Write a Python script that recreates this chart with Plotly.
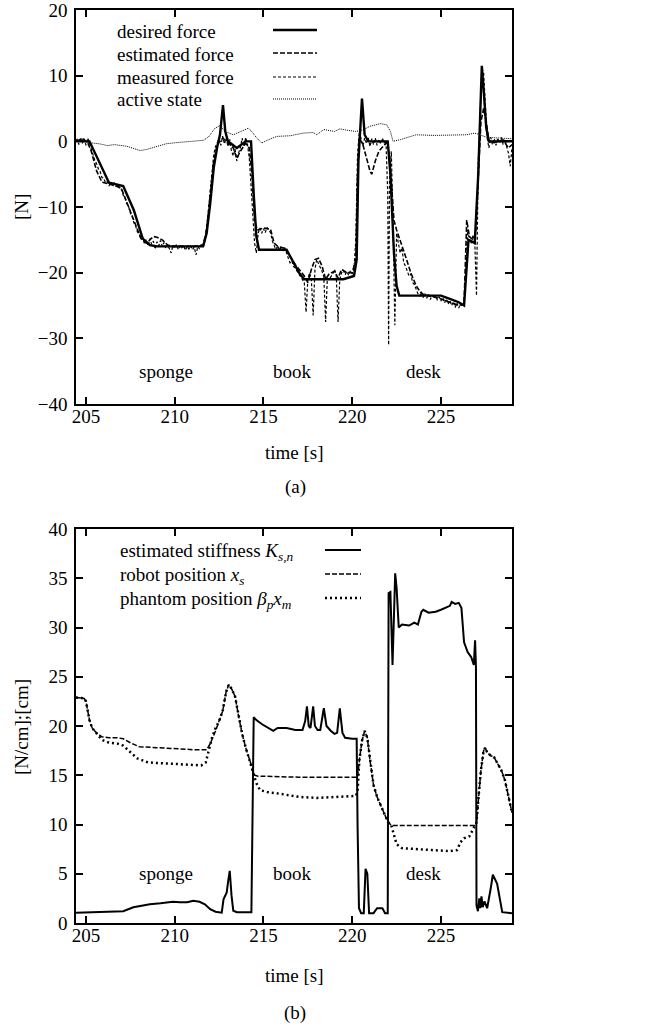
import plotly.graph_objects as go

# ---------------- data: (a) forces ----------------
des_t = [204.44, 205.2, 206.3, 207.1, 207.7, 208.2, 208.6, 209.0, 211.6, 211.8, 212.0, 212.2, 212.4,
         212.55, 212.72, 212.85, 213.0, 213.5, 214.0, 214.3, 214.45, 214.6, 214.75, 216.3, 216.6,
         217.0, 217.3, 219.5, 220.1, 220.25, 220.35, 220.45, 220.55, 220.7, 220.9, 222.0, 222.15,
         222.35, 222.5, 222.65, 225.0, 225.5, 226.0, 226.3, 226.45, 226.55, 226.9, 227.1, 227.22,
         227.3, 227.4, 227.55, 227.7, 229.0]
des_v = [0.0, 0.0, -6.3, -6.8, -10.5, -14.8, -15.8, -16.0, -16.0, -14.0, -9.5, -4.0, -0.8,
         1.0, 5.5, 1.5, 0.0, -1.0, 0.0, 0.0, -8.0, -14.5, -16.5, -16.5, -18.0,
         -20.0, -21.0, -21.0, -20.5, -18.0, -3.0, 2.0, 6.5, 1.0, 0.0, 0.0, -5.0,
         -17.0, -22.0, -23.5, -23.5, -24.0, -24.5, -25.0, -18.0, -15.0, -15.5, -5.0, 5.0,
         11.5, 8.0, 2.0, 0.0, 0.0]

est_t = [204.44, 204.8, 205.1, 205.3, 205.6, 205.9, 206.3, 206.7, 207.0, 207.4, 207.8, 208.1, 208.4,
         208.8, 209.0, 209.3, 209.6, 210.0, 211.0, 211.6, 211.8, 212.0, 212.2, 212.4, 212.7, 213.0,
         213.3, 213.5, 213.7, 214.0, 214.2, 214.35, 214.5, 214.65, 215.0, 215.4, 215.6, 215.8,
         216.2, 216.5, 216.8, 217.1, 217.3, 217.5, 217.7, 217.9, 218.1, 218.3, 218.5, 218.7,
         219.0, 219.2, 219.4, 219.7, 220.0, 220.2, 220.3, 220.4, 220.6, 220.8, 221.0, 221.1,
         221.3, 221.5, 221.8, 222.0, 222.15, 222.35, 222.5, 222.7, 223.0, 223.3, 223.6, 223.9,
         224.5, 225.0, 225.5, 226.0, 226.3, 226.4, 226.45, 226.6, 226.8, 226.95, 227.1, 227.25,
         227.4, 227.55, 227.7, 228.0, 228.5, 228.8, 229.0]
est_v = [0.0, 0.4, -0.2, -1.5, -4.5, -6.2, -6.5, -6.8, -7.2, -10.0, -13.0, -14.8, -15.5,
         -14.5, -14.6, -15.0, -15.8, -16.0, -16.0, -15.8, -13.5, -8.0, -3.0, -0.5, 0.5, -0.2,
         -1.0, -2.6, -1.5, -0.3, -1.0, -5.0, -12.0, -13.5, -13.2, -13.4, -15.5, -16.0,
         -16.3, -17.5, -18.8, -19.8, -20.5, -21.5, -19.5, -18.0, -17.8, -19.0, -21.0, -20.2,
         -19.8, -20.8, -19.5, -20.0, -20.0, -18.0, -5.0, 0.5, -0.5, -2.5, -4.5, -5.0,
         -3.0, -1.5, -0.5, 0.0, -4.0, -12.0, -13.5, -15.0, -17.5, -20.0, -22.0, -23.2,
         -23.6, -24.0, -24.5, -25.0, -24.8, -18.0, -12.0, -14.5, -15.0, -14.0, -5.0, 3.0,
         5.0, 3.0, 0.0, -0.2, 0.2, -1.0, -0.5]

meas_t = [204.44, 204.5, 204.6, 204.7, 204.8, 204.9, 205.0, 205.1, 205.2, 205.3, 205.4, 205.5, 205.6,
          205.7, 205.8, 205.9, 206.0, 206.1, 206.2, 206.3, 206.4, 206.5, 206.6, 206.7, 206.8, 206.9,
          207.0, 207.1, 207.2, 207.3, 207.4, 207.5, 207.6, 207.7, 207.8, 207.9, 208.0, 208.1, 208.2,
          208.3, 208.4, 208.5, 208.6, 208.7, 208.8, 208.9, 209.0, 209.1, 209.2, 209.3, 209.4, 209.5,
          209.6, 209.7, 209.8, 209.9, 210.0, 210.1, 210.2, 210.3, 210.4, 210.5, 210.6, 210.7, 210.8,
          210.9, 211.0, 211.1, 211.2, 211.3, 211.4, 211.5, 211.6, 211.7, 211.8, 211.9, 212.0, 212.1,
          212.2, 212.3, 212.4, 212.5, 212.6, 212.7, 212.8, 212.9, 213.0, 213.1, 213.2, 213.3, 213.4,
          213.5, 213.6, 213.7, 213.8, 213.9, 214.0, 214.1, 214.2, 214.3, 214.4, 214.5, 214.6, 214.7,
          214.8, 214.9, 215.0, 215.1, 215.2, 215.3, 215.4, 215.5, 215.6, 215.7, 215.8, 215.9, 216.0,
          216.1, 216.2, 216.3, 216.4, 216.5, 216.6, 216.7, 216.8, 216.9, 217.0, 217.1, 217.2, 217.3,
          217.4, 217.5, 217.6, 217.7, 217.8, 217.9, 218.0, 218.1, 218.2, 218.3, 218.4, 218.5, 218.6,
          218.7, 218.8, 218.9, 219.0, 219.1, 219.2, 219.3, 219.4, 219.5, 219.6, 219.7, 219.8, 219.9,
          220.0, 220.1, 220.2, 220.3, 220.4, 220.5, 220.6, 220.7, 220.8, 220.9, 221.0, 221.1, 221.2,
          221.3, 221.4, 221.5, 221.6, 221.7, 221.8, 221.9, 222.0, 222.05, 222.1, 222.2, 222.3, 222.4,
          222.5, 222.6, 222.7, 222.8, 222.9, 223.0, 223.1, 223.2, 223.3, 223.4, 223.5, 223.6, 223.7,
          223.8, 223.9, 224.0, 224.1, 224.2, 224.3, 224.4, 224.5, 224.6, 224.7, 224.8, 224.9, 225.0,
          225.1, 225.2, 225.3, 225.4, 225.5, 225.6, 225.7, 225.8, 225.9, 226.0, 226.1, 226.2, 226.3,
          226.4, 226.5, 226.6, 226.7, 226.8, 226.9, 227.0, 227.05, 227.1, 227.2, 227.3, 227.4, 227.5,
          227.6, 227.7, 227.8, 227.9, 228.0, 228.1, 228.2, 228.3, 228.4, 228.5, 228.6, 228.7, 228.8,
          228.9, 229.0]
meas_v = [0.2, 0.3, -0.5, 0.6, -0.3, 0.4, -0.6, 0.5, -0.3, -1.2, -1.9, -2.9, -3.4,
          -4.2, -4.6, -5.5, -5.6, -6.3, -6.1, -6.8, -6.2, -6.7, -6.3, -6.9, -6.5, -7.1,
          -7.3, -8.2, -8.6, -9.5, -9.9, -10.9, -11.4, -12.4, -12.9, -13.8, -14.1, -14.9, -14.7,
          -15.6, -15.0, -15.9, -14.8, -15.7, -15.2, -16.4, -15.3, -15.9, -15.1, -16.0, -15.4, -16.3,
          -15.7, -16.4, -17.0, -15.8, -16.3, -15.7, -16.5, -15.9, -16.2, -15.8, -16.6, -16.0, -16.4,
          -15.9, -16.5, -16.1, -17.3, -16.0, -16.4, -15.8, -16.1, -15.2, -13.0, -10.5, -7.5, -4.5,
          -2.0, -0.8, -0.2, 0.4, -0.6, 0.8, -0.4, 0.5, -0.8, 0.3, -1.5, -2.2, -1.2,
          -3.0, -1.8, -0.9, 0.5, -0.8, 0.6, -0.5, -2.5, -7.0, -11.5, -15.5, -17.0, -14.0,
          -13.2, -14.0, -13.3, -13.9, -13.1, -13.6, -13.9, -15.2, -16.0, -16.5, -15.9, -16.6, -16.1,
          -16.7, -16.2, -17.2, -17.8, -18.5, -18.2, -19.1, -19.3, -19.8, -20.2, -20.6, -20.9, -21.5,
          -26.0, -21.0, -20.0, -21.2, -26.5, -19.5, -18.0, -18.5, -19.2, -19.8, -20.6, -27.5, -20.8,
          -21.0, -20.6, -20.2, -19.5, -20.3, -27.5, -21.0, -20.0, -19.6, -20.3, -19.8, -20.4, -19.7,
          -20.2, -19.5, -15.0, -2.0, 1.5, 0.2, -0.7, 0.5, -0.3, 0.6, -0.8, 0.4, -0.5,
          0.5, -0.6, 0.3, -0.4, 0.5, -0.3, 0.2, -8.0, -31.0, -6.0, -1.5, -12.0, -28.0,
          -14.0, -15.5, -17.0, -16.2, -18.5, -19.0, -19.8, -20.5, -20.2, -21.5, -21.8, -22.6, -23.2,
          -23.6, -22.9, -23.8, -23.2, -23.9, -23.3, -24.1, -23.4, -23.9, -23.5, -24.2, -23.7, -24.3,
          -23.8, -24.6, -24.0, -24.8, -24.2, -25.0, -24.4, -25.3, -24.6, -25.4, -24.7, -25.1, -24.5,
          -20.0, -13.5, -14.8, -15.6, -14.3, -15.0, -23.5, -10.0, -3.0, 4.0, 11.0, 10.5, 5.0,
          0.5, -1.0, 0.6, -0.5, 0.4, -0.6, 0.5, -0.3, 0.6, -0.5, 0.3, -0.8, -1.8,
          -3.8, -1.0]

act_t = [204.44, 204.8, 205.2, 205.8, 206.2, 206.6, 207.3, 208.05, 208.4, 209.0, 209.55, 210.3,
         211.05, 211.6, 211.9, 212.27, 212.55, 212.84, 213.3, 213.68, 214.15, 214.34, 214.62, 214.9,
         215.2, 215.75, 216.5, 217.25, 217.8, 218.0, 218.4, 219.0, 219.3, 219.7, 220.2, 220.65,
         221.0, 221.6, 221.95, 222.15, 222.3, 222.7, 223.25, 223.6, 224.55, 225.5, 226.45, 226.9,
         227.2, 227.6, 228.3, 229.0]
act_v = [0.2, 0.1, -0.2, -0.4, -0.65, -0.5, -0.75, -1.4, -1.25, -0.75, -0.35, -0.15,
         0.0, 0.15, 0.65, 2.0, 2.4, 1.5, 1.0, 1.5, 2.0, 1.5, 0.5, -0.25,
         0.15, 0.75, 0.85, 1.25, 1.35, 1.0, 1.8, 1.5, 1.9, 1.7, 1.5, 1.8,
         2.3, 2.7, 2.5, 1.5, 0.0, 0.25, 0.75, 1.0, 0.9, 0.9, 1.0, 1.25,
         1.0, 0.6, 0.5, 0.4]

# ---------------- data: (b) stiffness / positions ----------------
stf_t = [204.44, 205.8, 206.6, 207.1, 207.67, 208.05, 208.6, 209.2, 209.55, 209.9, 210.3, 210.7,
         211.05, 211.4, 211.7, 212.0, 212.3, 212.65, 212.75, 212.93, 213.0, 213.1, 213.2, 213.3,
         213.5, 214.25, 214.32, 214.45, 214.6, 214.9, 215.3, 215.55, 215.8, 216.3, 216.8, 217.2,
         217.35, 217.45, 217.55, 217.65, 217.8, 217.9, 218.05, 218.2, 218.4, 218.55, 218.8, 219.0,
         219.15, 219.3, 219.45, 219.6, 220.0, 220.25, 220.3, 220.38, 220.5, 220.65, 220.75, 220.85,
         220.95, 221.2, 221.4, 221.7, 221.85, 222.0, 222.05, 222.15, 222.27, 222.42, 222.5, 222.62,
         222.8, 223.2, 223.5, 223.7, 223.9, 224.0, 224.3, 224.7, 225.0, 225.3, 225.5, 225.6, 225.8,
         226.0, 226.15, 226.3, 226.5, 226.7, 226.85, 226.92, 226.97, 227.0, 227.08, 227.16, 227.22,
         227.28, 227.35, 227.45, 227.6, 227.8, 227.92, 228.16, 228.3, 228.45, 229.0]
stf_v = [1.05, 1.1, 1.15, 1.2, 1.6, 1.75, 1.9, 2.0, 2.1, 2.15, 2.1, 2.1,
         2.25, 2.15, 1.9, 1.4, 1.15, 1.05, 2.4, 3.1, 4.1, 5.3, 2.8, 1.25,
         1.1, 1.1, 1.1, 20.9, 20.6, 20.2, 19.8, 19.5, 19.8, 19.8, 19.6, 19.6,
         20.5, 22.0, 20.0, 19.8, 22.0, 20.0, 19.6, 19.6, 21.8, 20.0, 19.5, 19.2,
         19.3, 21.8, 19.3, 18.8, 18.7, 18.7, 10.0, 1.5, 1.0, 1.0, 5.5, 5.0,
         1.0, 1.0, 1.5, 1.5, 1.0, 1.0, 33.5, 33.6, 26.2, 35.5, 34.0, 30.0,
         30.3, 30.2, 30.5, 30.3, 31.6, 31.8, 31.5, 31.6, 31.8, 32.0, 32.2, 32.6, 32.4,
         32.5, 32.0, 28.5, 27.5, 27.0, 26.2, 28.7, 26.0, 1.8, 1.2, 2.5, 1.5,
         2.7, 1.6, 2.2, 1.5, 3.5, 4.9, 4.0, 2.5, 1.1, 1.0]

rob_t = [204.44, 204.9, 205.0, 205.1, 205.2, 205.35, 205.6, 205.9, 206.3, 206.8, 207.1, 207.5,
         208.0, 209.0, 210.0, 211.0, 211.8, 212.0, 212.3, 212.5, 212.7, 212.9, 213.05, 213.2,
         213.4, 213.6, 213.8, 214.0, 214.3, 214.5, 214.7, 215.0, 217.0, 219.0, 220.3, 220.4,
         220.55, 220.7, 220.85, 221.0, 221.2, 221.4, 221.6, 221.8, 222.0, 222.2, 223.0, 226.9,
         227.0, 227.1, 227.25, 227.4, 227.5, 227.6, 227.8, 228.0, 228.2, 228.4, 228.6, 228.8, 229.0]
rob_v = [22.9, 22.8, 22.5, 21.5, 20.6, 19.8, 19.3, 18.9, 18.8, 18.8, 18.7, 18.3,
         17.9, 17.8, 17.7, 17.6, 17.6, 18.2, 19.5, 20.5, 21.5, 23.5, 24.2, 23.8,
         23.0, 21.0, 19.2, 17.8, 16.0, 15.0, 14.9, 14.9, 14.8, 14.8, 14.8, 16.5,
         18.5, 19.5, 18.8, 16.5, 14.0, 12.8, 11.9, 11.0, 10.3, 9.9, 9.9, 9.9,
         10.2, 12.5, 15.5, 17.5, 17.8, 17.3, 17.0, 16.8, 16.2, 15.5, 14.5, 13.0, 11.2]

pha_t = [204.44, 204.9, 205.0, 205.1, 205.2, 205.35, 205.6, 205.9, 206.3, 206.8, 207.1, 207.5,
         207.9, 208.5, 209.5, 210.5, 211.5, 211.75, 211.9, 212.1, 212.3, 212.5, 212.7, 212.9,
         213.05, 213.2, 213.4, 213.6, 213.8, 214.0, 214.3, 214.45, 214.6, 214.8, 215.2, 216.0,
         217.0, 218.0, 219.0, 220.2, 220.3, 220.4, 220.55, 220.7, 220.85, 221.0, 221.2, 221.4,
         221.6, 221.8, 222.0, 222.2, 222.35, 222.5, 222.8, 223.5, 224.5, 225.5, 225.9, 226.1,
         226.3, 226.6, 226.8, 227.0, 227.1, 227.25, 227.4, 227.5, 227.6, 227.8, 228.0, 228.2,
         228.4, 228.6, 228.8, 229.0]
pha_v = [22.9, 22.8, 22.5, 21.5, 20.6, 19.8, 19.3, 18.6, 18.3, 18.2, 18.0, 17.3,
         16.7, 16.3, 16.2, 16.1, 16.0, 16.3, 17.5, 18.8, 19.8, 20.5, 21.5, 23.5,
         24.2, 23.8, 23.0, 21.0, 19.2, 17.8, 16.0, 15.0, 14.2, 13.5, 13.3, 13.1,
         12.8, 12.7, 12.8, 12.9, 13.3, 16.5, 18.5, 19.5, 18.8, 16.5, 14.0, 12.8,
         11.9, 11.0, 10.3, 9.9, 8.8, 8.0, 7.6, 7.5, 7.4, 7.3, 7.4, 8.2,
         8.6, 8.8, 9.5, 10.2, 12.5, 15.5, 17.5, 17.8, 17.3, 17.0, 16.8, 16.2,
         15.5, 14.5, 13.0, 11.2]

x_ticks = [205, 210, 215, 220, 225]
y_ticks_a = [-40, -30, -20, -10, 0, 10, 20]
y_ticks_b = [0, 5, 10, 15, 20, 25, 30, 35, 40]
materials = ["sponge", "book", "desk"]
material_t = [209.52, 216.63, 224.03]

legend_a = ["desired force", "estimated force", "measured force", "active state"]
legend_b = ["estimated stiffness <i>K</i><sub><i>s,n</i></sub>",
            "robot position <i>x</i><sub><i>s</i></sub>",
            "phantom position <i>β</i><sub><i>p</i></sub><i>x</i><sub><i>m</i></sub>"]

# ---------------- layout helpers ----------------
W, H = 655, 1030
FONT = "Liberation Serif, Times New Roman, serif"
FS = 19


def px(x):
    return x / W


def py(y):
    return 1 - y / H


fig = go.Figure()

style_a = [dict(color="black", width=2.4, dash="solid"),
           dict(color="black", width=1.6, dash="5px,2px"),
           dict(color="black", width=1.2, dash="3px,2px"),
           dict(color="black", width=1.0, dash="1px,1px")]
series_a = [(act_t, act_v, style_a[3]), (meas_t, meas_v, style_a[2]),
            (est_t, est_v, style_a[1]), (des_t, des_v, style_a[0])]
for t, v, st in series_a:
    fig.add_trace(go.Scatter(x=t, y=v, mode="lines", line=st, xaxis="x", yaxis="y",
                             showlegend=False, hoverinfo="skip"))

style_b = [dict(color="black", width=2.0, dash="solid"),
           dict(color="black", width=1.5, dash="5px,2px"),
           dict(color="black", width=2.5, dash="2px,3px")]
series_b = [(pha_t, pha_v, style_b[2]), (rob_t, rob_v, style_b[1]), (stf_t, stf_v, style_b[0])]
for t, v, st in series_b:
    fig.add_trace(go.Scatter(x=t, y=v, mode="lines", line=st, xaxis="x2", yaxis="y2",
                             showlegend=False, hoverinfo="skip"))

axis_common = dict(showgrid=False, zeroline=False, showline=True, linecolor="black", linewidth=1.5,
                   mirror="allticks", ticks="inside", ticklen=7, tickwidth=1.5, tickcolor="black",
                   automargin=False, ticklabeloverflow="allow",
                   tickfont=dict(family=FONT, size=FS, color="black"))

x0, x1 = px(76), px(512)
fig.update_layout(
    template="none",
    width=W, height=H, margin=dict(l=0, r=0, t=0, b=0, autoexpand=False),
    paper_bgcolor="white", plot_bgcolor="white", showlegend=False,
    xaxis=dict(domain=[x0, x1], range=[204.44, 229.0], tickvals=x_ticks, anchor="y",
               ticklabelstandoff=-6, **axis_common),
    yaxis=dict(domain=[py(404), py(10)], range=[-40, 20], tickvals=y_ticks_a, anchor="x",
               ticklabelstandoff=3, **axis_common),
    xaxis2=dict(domain=[x0, x1], range=[204.44, 229.0], tickvals=x_ticks, anchor="y2",
                ticklabelstandoff=-6, **axis_common),
    yaxis2=dict(domain=[py(923), py(529)], range=[0, 40], tickvals=y_ticks_b, anchor="x2",
                ticklabelstandoff=3, **axis_common),
)

ann = []
tf = dict(family=FONT, size=FS, color="black")
center = dict(xanchor="center", yanchor="middle", showarrow=False, font=tf)
# material labels
for name, t in zip(materials, material_t):
    ann.append(dict(x=t, y=-35.1, xref="x", yref="y", text=name, **center))
    ann.append(dict(x=t, y=5.0, xref="x2", yref="y2", text=name, **center))
# axis titles and captions
ann += [
    dict(x=px(294), y=py(453), xref="paper", yref="paper", text="time [s]", **center),
    dict(x=px(294), y=py(975), xref="paper", yref="paper", text="time [s]", **center),
    dict(x=px(295), y=py(487), xref="paper", yref="paper", text="(a)", **center),
    dict(x=px(295), y=py(1013), xref="paper", yref="paper", text="(b)", **center),
    dict(x=px(21), y=py(207), xref="paper", yref="paper", text="[N]", textangle=-90, **center),
    dict(x=px(21), y=py(727), xref="paper", yref="paper", text="[N/cm];[cm]", textangle=-90,
         **center),
]

shapes = []
leg_a_y = [30, 53, 77, 99]
for label, yy, st in zip(legend_a, leg_a_y, style_a):
    ann.append(dict(x=px(115), y=py(yy + 1), xref="paper", yref="paper", text=label,
                    xanchor="left", yanchor="middle", showarrow=False, font=tf))
    shapes.append(dict(type="line", xref="paper", yref="paper", x0=px(273), x1=px(317),
                       y0=py(yy), y1=py(yy), line=st, opacity=1))
leg_b_y = [550, 574, 598]
for label, yy, st in zip(legend_b, leg_b_y, style_b):
    ann.append(dict(x=px(118), y=py(yy + 2), xref="paper", yref="paper", text=label,
                    xanchor="left", yanchor="middle", showarrow=False, font=tf))
    shapes.append(dict(type="line", xref="paper", yref="paper", x0=px(325), x1=px(361),
                       y0=py(yy), y1=py(yy), line=st, opacity=1))

fig.update_layout(annotations=ann, shapes=shapes)
# the page body has a default 8px margin; remove it so the figure fills the window exactly
fig.write_html("out.html", config={"displayModeBar": False},
               post_script="document.body.style.margin='0px';")
